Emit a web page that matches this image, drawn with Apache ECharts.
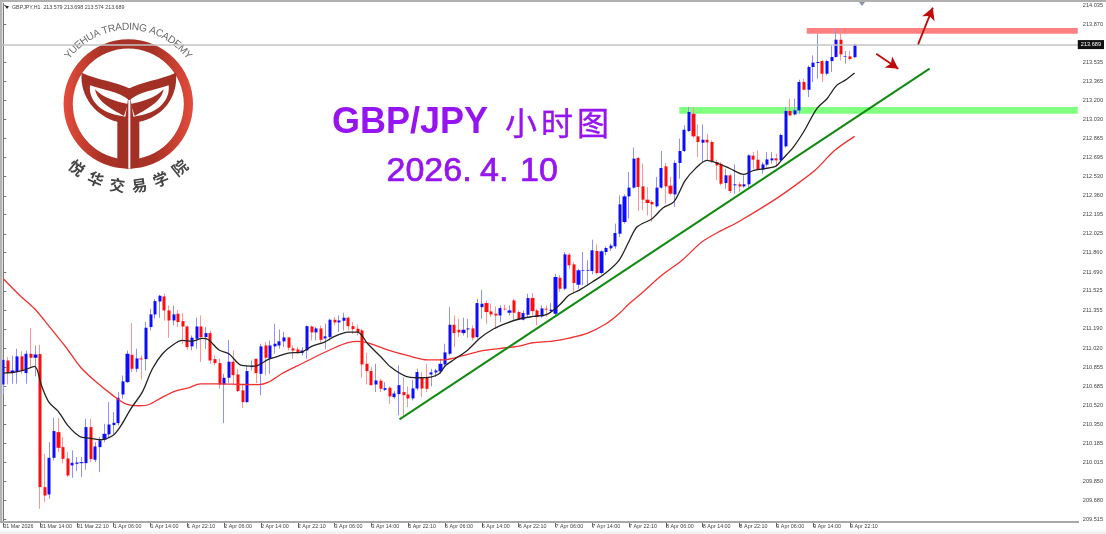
<!DOCTYPE html>
<html><head><meta charset="utf-8">
<style>html,body{margin:0;padding:0;background:#fff}#c{width:1106px;height:534px;filter:blur(0.35px)}</style>
<script src="https://cdn.jsdelivr.net/npm/echarts@6/dist/echarts.min.js"></script>
</head><body><div id="c"></div>
<script>
const timeLabels=['31 Mar 2026','31 Mar 14:00','31 Mar 22:10','1 Apr 06:00','1 Apr 14:00','1 Apr 22:10','2 Apr 06:00','2 Apr 14:00','2 Apr 22:10','3 Apr 06:00','3 Apr 14:00','5 Apr 22:10','6 Apr 06:00','6 Apr 14:00','6 Apr 22:10','7 Apr 06:00','7 Apr 14:00','7 Apr 22:10','8 Apr 06:00','8 Apr 14:00','8 Apr 22:10','9 Apr 06:00','9 Apr 14:00','9 Apr 22:10'];
const priceTicks=[214.035,213.870,213.535,213.365,213.200,213.030,212.865,212.695,212.530,212.360,212.195,212.025,211.860,211.690,211.525,211.355,211.190,211.020,210.855,210.685,210.520,210.350,210.185,210.015,209.850,209.680,209.515];
const opens=[210.701,210.912,210.801,210.810,210.948,210.801,210.971,210.936,210.968,209.798,
209.734,210.056,210.282,210.150,210.050,209.989,210.003,210.009,210.009,210.326,
210.039,210.150,210.215,210.262,210.344,210.361,210.613,210.722,210.962,210.839,
210.930,210.924,211.206,211.317,211.431,211.475,211.352,211.264,211.323,211.258,
211.211,211.036,211.103,211.211,211.118,211.153,210.924,210.889,210.701,210.760,
210.901,210.789,210.649,210.546,210.854,210.927,210.795,211.044,210.927,211.036,
211.044,211.080,211.115,211.018,211.009,210.977,211.000,211.211,211.159,211.194,
211.106,211.118,211.270,211.247,211.261,211.288,211.214,211.191,211.176,210.883,
210.819,210.701,210.734,210.654,210.672,210.590,210.616,210.634,210.613,210.578,
210.666,210.766,210.766,210.789,210.807,210.816,210.877,210.971,211.226,211.182,
211.153,211.185,211.194,211.118,211.381,211.417,211.343,211.323,211.308,211.367,
211.332,211.440,211.338,211.270,211.314,211.461,211.352,211.299,211.367,211.347,
211.323,211.640,211.543,211.842,211.757,211.578,211.702,211.702,211.699,211.875,
211.681,211.866,211.898,211.916,212.027,212.130,212.355,212.432,212.693,212.443,
212.326,212.306,212.268,212.432,212.619,212.449,212.373,212.649,212.754,212.930,
213.082,212.883,212.827,212.853,212.833,212.657,212.642,212.472,212.540,212.452,
212.461,212.443,212.461,212.713,212.678,212.590,212.634,212.672,212.689,212.672,
212.795,213.106,213.076,213.111,213.361,213.293,213.493,213.528,213.545,213.434,
213.545,213.581,213.733,213.581,213.586,213.579];
const closes=[210.918,210.801,210.824,210.948,210.824,210.971,210.936,210.965,209.798,209.725,
210.056,210.291,210.144,210.047,209.901,210.012,210.015,210.018,210.326,210.045,
210.156,210.209,210.267,210.349,210.364,210.584,210.728,210.971,210.839,210.930,
210.921,211.200,211.317,211.434,211.481,211.352,211.264,211.317,211.250,211.211,
211.030,211.112,211.211,211.118,211.153,210.912,210.889,210.701,210.760,210.901,
210.783,210.643,210.546,210.819,210.865,210.801,211.036,210.936,211.044,211.059,
211.080,211.115,211.024,211.000,210.983,211.000,211.214,211.159,211.194,211.094,
211.124,211.270,211.247,211.264,211.288,211.214,211.188,211.162,210.877,210.819,
210.695,210.736,210.663,210.669,210.596,210.622,210.695,210.607,210.578,210.666,
210.810,210.666,210.663,210.807,210.824,210.883,210.983,211.226,211.153,211.159,
211.182,211.194,211.112,211.417,211.411,211.338,211.317,211.308,211.373,211.361,
211.352,211.332,211.270,211.329,211.461,211.346,211.294,211.370,211.359,211.359,
211.646,211.543,211.845,211.749,211.593,211.705,211.708,211.708,211.881,211.681,
211.872,211.901,211.922,212.033,212.285,212.355,212.432,212.687,212.438,212.326,
212.297,212.285,212.432,212.605,212.443,212.379,212.649,212.754,212.941,213.097,
212.883,212.833,212.853,212.830,212.666,212.628,212.466,212.540,212.402,212.461,
212.443,212.461,212.716,212.678,212.590,212.636,212.680,212.689,212.672,212.895,
213.106,213.067,213.111,213.361,213.293,213.493,213.531,213.537,213.434,213.545,
213.581,213.733,213.604,213.586,213.563,213.689];
const highs=[210.927,210.942,210.956,211.015,210.994,211.000,211.197,211.044,211.050,210.091,
210.194,210.408,210.408,210.238,210.106,210.121,210.062,210.062,210.399,210.399,
210.194,210.238,210.355,210.546,210.458,210.634,210.780,211.000,211.241,211.015,
210.956,211.250,211.367,211.455,211.490,211.499,211.396,211.396,211.358,211.329,
211.220,211.132,211.288,211.308,211.206,211.176,210.956,210.927,210.795,211.094,
211.000,210.839,210.707,210.868,210.912,210.927,211.059,211.074,211.088,211.235,
211.185,211.162,211.115,211.044,211.030,211.030,211.220,211.220,211.206,211.220,
211.235,211.279,211.294,211.308,211.332,211.299,211.250,211.229,211.191,210.980,
210.854,210.883,210.751,210.722,210.684,210.643,210.868,210.766,210.684,210.742,
210.839,210.810,210.883,210.839,210.839,210.927,211.059,211.381,211.308,211.279,
211.288,211.279,211.220,211.455,211.534,211.440,211.411,211.387,211.396,211.402,
211.396,211.455,211.352,211.352,211.499,211.505,211.367,211.396,211.397,211.417,
211.675,211.661,211.866,211.857,211.778,211.719,211.866,211.793,211.974,211.933,
211.881,211.916,211.939,212.115,212.364,212.373,212.570,212.784,212.702,212.643,
212.438,212.320,212.526,212.754,212.649,212.526,212.672,212.863,212.980,213.141,
213.141,212.988,212.988,212.906,212.848,212.678,212.657,212.598,212.554,212.636,
212.481,212.540,212.724,212.745,212.760,212.657,212.745,212.745,212.730,212.906,
213.141,213.214,213.214,213.381,213.390,213.507,213.595,213.786,213.557,213.557,
213.683,213.830,213.786,213.633,213.633,213.698];
const lows=[210.619,210.701,210.707,210.707,210.795,210.707,210.854,210.772,209.608,209.666,
209.696,210.033,210.106,210.009,209.886,209.880,209.939,209.886,209.951,210.018,
210.018,209.930,210.194,210.238,210.267,210.341,210.575,210.713,210.810,210.810,
210.745,210.824,211.176,211.279,211.288,211.264,211.112,211.220,211.206,211.059,
211.006,211.000,211.015,210.898,211.015,210.883,210.868,210.663,210.361,210.713,
210.707,210.634,210.496,210.540,210.824,210.713,210.605,210.780,210.795,210.971,
211.015,211.030,211.000,210.927,210.971,210.956,210.927,211.088,211.088,211.059,
211.015,211.088,211.220,211.162,211.176,211.176,211.147,211.132,210.760,210.701,
210.692,210.634,210.634,210.643,210.531,210.575,210.429,210.414,210.502,210.561,
210.649,210.590,210.634,210.684,210.766,210.795,210.854,210.956,211.030,211.118,
211.132,211.112,211.088,211.103,211.279,211.235,211.294,211.191,211.250,211.352,
211.308,211.264,211.264,211.264,211.294,211.308,211.220,211.288,211.294,211.329,
211.294,211.514,211.529,211.719,211.499,211.543,211.573,211.573,211.669,211.669,
211.669,211.837,211.875,211.895,211.998,212.115,212.159,212.423,212.226,212.232,
212.188,212.130,212.256,212.423,212.291,212.364,212.262,212.511,212.745,212.921,
212.871,212.701,212.657,212.672,212.648,212.496,212.452,212.422,212.384,212.378,
212.393,212.431,212.437,212.598,212.584,212.554,212.619,212.642,212.619,212.657,
212.783,213.067,213.067,213.082,213.287,213.229,213.361,213.390,213.361,213.419,
213.449,213.575,213.551,213.522,213.551,213.574];
// moving averages, read at irregular bar positions
const blackBars=[0,2.2,4.3,6.8,8.3,9.9,11.9,14,16.6,18.7,20.9,23.8,25.6,27.7,30.2,32.4,34.6,36.7,38.9,41,43.2,44.6,46.8,49,51.8,54.7,57.6,59.8,61.9,64.8,67,69.8,72,74.9,77,79.2,82.1,84.2,87.5,90,92.9,94.7,96.1,97.9,100.8,103.7,106.6,109.4,112.3,115.2,118.1,120.8,122.9,125.1,128,130.9,133.8,135.9,137.7,141,143.4,145.7,148.2,150.4,152.9,155.5,158,160.9,163.1,167.8,169.2,171.7,173.9,176.8,179,181.1,182.9,185];
const blackVals=[210.801,210.807,210.824,210.860,210.692,210.546,210.467,210.341,210.244,210.229,210.215,210.253,210.341,210.487,210.634,210.839,210.971,211.044,211.088,211.082,211.106,211.094,211.006,210.971,210.868,210.862,210.921,210.950,210.977,210.986,211.036,211.074,211.124,211.162,211.162,211.059,210.942,210.854,210.772,210.760,210.766,210.795,210.868,210.918,211.000,211.112,211.191,211.241,211.279,211.299,211.317,211.397,211.485,211.529,211.602,211.681,211.793,211.954,212.086,212.159,212.256,212.306,212.496,212.599,212.672,212.642,212.598,212.549,212.584,212.619,212.678,212.789,212.921,213.126,213.214,213.331,213.375,213.440];
const redBars=[0,3.6,6.8,10.1,13.7,16.9,20.2,23.8,26.6,29.5,31.7,34.6,37.4,40.3,42.8,46.8,51.8,55.5,57.6,60.5,64.8,68.4,72,74.9,77,79.9,83.5,87.8,92.2,95.8,100.1,104.4,109.4,112.1,115,119.4,123,127,131,133.8,136,138.2,143.1,147.5,151.8,156.1,159.7,167.4,172.1,176.4,180.7,185];
const redVals=[211.631,211.484,211.367,211.206,211.024,210.848,210.722,210.605,210.531,210.514,210.525,210.590,210.643,210.672,210.707,210.707,210.701,210.700,210.722,210.795,210.883,210.956,211.024,211.068,211.080,211.059,211.006,210.956,210.918,210.918,210.956,211.000,211.024,211.038,211.068,211.082,211.109,211.153,211.235,211.323,211.411,211.485,211.661,211.793,211.954,212.056,212.130,212.320,212.452,212.584,212.760,212.883];
const trendBars=[86.1,201.3], trendVals=[210.394,213.478];
const lastPrice=213.689;
const resistance={from:174.6,high:213.835,low:213.785};
const support={from:146.9,high:213.141,low:213.082};
const arrowUp=[[198.8,213.692],[202,214.015]];
const arrowDown=[[189.7,213.610],[194.5,213.478]];
const slotCount=234;

const categories=Array.from({length:slotCount},(_,i)=>i%8===0&&timeLabels[i/8]?timeLabels[i/8]:'');
const zip=(a,b)=>a.map((v,i)=>[v,b[i]]);
const wicks=opens.map((o,i)=>[o,closes[i],lows[i],highs[i]]);
const bodies=opens.map((o,i)=>[o,closes[i],Math.min(o,closes[i]),Math.max(o,closes[i])]);

const reg=(n,d)=>echarts.graphic.registerShape(n,echarts.graphic.extendPath(d));
reg('logoY','M245 218 C290 240 350 245 388 265 C425 245 480 240 528 218 C535 290 490 350 418 365 L418 500 L392 506 L385 506 L352 500 L352 365 C290 350 238 290 245 218 Z');
reg('logoHoleL','M270 256 C315 272 355 275 384 298 L376 350 L350 345 C300 335 265 300 270 256 Z');
reg('logoHoleR','M506 256 C461 272 421 275 392 298 L400 350 L426 345 C476 335 511 300 506 256 Z');
reg('logoLeafL','M285 268 C292 305 330 325 372 348 L384 312 C350 305 310 295 285 268 Z');
reg('logoLeafR','M491 268 C484 305 446 325 404 348 L392 312 C426 305 466 295 491 268 Z');

const purple='#9614f0', logoDark='#a33025';
const cx=128.3,cy=104;
const g=[];
// frame
g.push({type:'rect',shape:{x:0,y:0,width:1106,height:2},style:{fill:'#b0b0b0'},z:50});
g.push({type:'rect',shape:{x:0,y:0,width:2.4,height:523},style:{fill:'#b4b4b4'},z:50});
g.push({type:'rect',shape:{x:0,y:521,width:1079,height:2},style:{fill:'#a8a8a8'},z:50});
g.push({type:'rect',shape:{x:0,y:531,width:1106,height:3},style:{fill:'#f2f2f2'},z:50});
g.push({type:'polygon',shape:{points:[[859,2],[865,2],[862,6]]},style:{fill:'#8a93a6'},z:50});
// header
g.push({type:'polygon',shape:{points:[[5,6],[9,6],[7,9]]},style:{fill:'#222'},z:50});
g.push({type:'text',x:12,y:7.5,style:{text:'GBPJPY,H1  213.579 213.698 213.574 213.689',font:'5.3px "Liberation Sans"',fill:'#444',verticalAlign:'middle'},z:50});
// logo
const ringGrad={type:'linear',x:0,y:0,x2:1,y2:0,colorStops:[{offset:0,color:'#e44c3c'},{offset:0.3,color:'#a93226'},{offset:0.7,color:'#a93226'},{offset:1,color:'#e44c3c'}]};
g.push({type:'ring',shape:{cx:cx,cy:cy,r:64.7,r0:55.5},style:{fill:ringGrad},z:3});
g.push({type:'group',scaleX:1/3,scaleY:1/3,z:3,children:[
 {type:'logoY',z:3,style:{fill:logoDark}},
 {type:'logoHoleL',z:4,style:{fill:'#fff'}},
 {type:'logoHoleR',z:4,style:{fill:'#fff'}},
 {type:'logoLeafL',z:5,style:{fill:logoDark}},
 {type:'logoLeafR',z:5,style:{fill:logoDark}},
 {type:'rect',z:6,shape:{x:385,y:300,width:6,height:206},style:{fill:'#fff'}}
]});
const topText='YUEHUA TRADING ACADEMY', topFont='10.3px "Liberation Sans"';
const mctx=document.createElement('canvas').getContext('2d'); mctx.font=topFont;
const charW=[...topText].map(c=>mctx.measureText(c).width), totW=charW.reduce((a,b)=>a+b,0);
let run=0;
[...topText].forEach((ch,i)=>{const mid=run+charW[i]/2; run+=charW[i];
 const b=(-53+106*mid/totW)*Math.PI/180,R=77;
 g.push({type:'text',x:cx+R*Math.sin(b),y:cy-R*Math.cos(b),rotation:-b,style:{text:ch,font:topFont,fill:'#6a6a6a',align:'center',verticalAlign:'middle'},z:3});});
[...'悦华交易学院'].forEach((ch,i)=>{const a=(39-78*i/5)*Math.PI/180,R=82;
 g.push({type:'text',x:cx-R*Math.sin(a),y:cy+R*Math.cos(a),rotation:-a,style:{text:ch,font:'bold 15.5px "Noto Sans CJK SC"',fill:'#444',align:'center',verticalAlign:'middle'},z:3});});
// titles
g.push({type:'text',x:332,y:123,style:{text:'GBP/JPY',font:'bold 36px "Liberation Sans"',fill:purple,verticalAlign:'middle'},z:20});
[['小',521],['时',557],['图',593]].forEach(([t,x])=>g.push({type:'text',x:x,y:123,style:{text:t,font:'32px "Noto Sans CJK SC"',fill:purple,stroke:purple,lineWidth:0.4,align:'center',verticalAlign:'middle'},z:20}));
[['2026.',386.5],['4.',480],['10',520]].forEach(([t,x])=>g.push({type:'text',x:x,y:172,style:{text:t,font:'34px "Liberation Sans"',fill:purple,stroke:purple,lineWidth:0.7,verticalAlign:'middle'},z:20}));

const chart=echarts.init(document.getElementById('c'));
chart.setOption({
 animation:false,backgroundColor:'#fff',
 grid:{left:1,top:3.3,width:1078.5,height:519,containLabel:false},
 xAxis:[{type:'category',data:categories,boundaryGap:true,
   axisLine:{show:false},
   axisTick:{show:true,alignWithLabel:true,interval:(i)=>i%8===0&&i<=184,length:5,lineStyle:{color:'#666'}},
   axisLabel:{interval:7,align:'left',margin:2,fontSize:5.4,fontFamily:'Liberation Sans',color:'#444'},splitLine:{show:false}},
  {type:'value',min:-0.5,max:slotCount-0.5,show:false,splitLine:{show:false}}],
 yAxis:[{type:'value',position:'right',min:209.489,max:214.053,scale:true,
   axisLine:{show:true,lineStyle:{color:'#777'}},
   axisTick:{show:true,length:3,lineStyle:{color:'#777'},customValues:priceTicks},
   axisLabel:{fontSize:5.6,fontFamily:'Liberation Sans',color:'#444',margin:5,formatter:v=>v.toFixed(3),customValues:priceTicks},splitLine:{show:false}}],
 series:[
  {type:'line',name:'zones',xAxisIndex:1,z:1,data:[],silent:true,symbol:'none',
   markArea:{silent:true,data:[
    [{coord:[resistance.from,resistance.high],itemStyle:{color:'#ff8080'}},{coord:[slotCount-0.5,resistance.low]}],
    [{coord:[support.from,support.high],itemStyle:{color:'#80ff80'}},{coord:[slotCount-0.5,support.low]}]]},
   markLine:{silent:true,symbol:'none',animation:false,lineStyle:{color:'#c4c4c4',width:1.5,type:'solid'},
    label:{position:'end',distance:0,formatter:()=>lastPrice.toFixed(3),color:'#fff',backgroundColor:'#111',fontSize:5.6,fontFamily:'Liberation Sans',padding:[1.5,3,1.5,3]},
    data:[{yAxis:lastPrice}]}},
  {type:'candlestick',name:'wicks',data:wicks,barWidth:1,z:3,silent:true,
   itemStyle:{color:'#8f8fff',color0:'#ff9494',borderColor:'#8f8fff',borderColor0:'#ff9494',borderWidth:1}},
  {type:'candlestick',name:'bodies',data:bodies,barWidth:3.6,z:4,silent:true,
   itemStyle:{color:'#0c0cff',color0:'#ff0c0c',borderColor:'#0c0cff',borderColor0:'#ff0c0c',borderWidth:0}},
  {type:'line',name:'MA slow',xAxisIndex:1,z:5,data:zip(redBars,redVals),symbol:'none',smooth:0.3,lineStyle:{color:'#f03030',width:1.3}},
  {type:'line',name:'MA fast',xAxisIndex:1,z:5,data:zip(blackBars,blackVals),symbol:'none',smooth:0.3,lineStyle:{color:'#222',width:1.3}},
  {type:'line',name:'trend',xAxisIndex:1,z:6,data:zip(trendBars,trendVals),symbol:'none',lineStyle:{color:'#128a12',width:2}},
  {type:'line',name:'arrows',xAxisIndex:1,z:7,data:[],symbol:'none',
   markLine:{silent:true,animation:false,symbol:['none','arrow'],symbolSize:[10,12],label:{show:false},lineStyle:{color:'#c00a0a',width:1.8,type:'solid'},
    data:[[{coord:arrowUp[0]},{coord:arrowUp[1]}],[{coord:arrowDown[0]},{coord:arrowDown[1]}]]}}
 ],
 graphic:g
});
</script></body></html>
